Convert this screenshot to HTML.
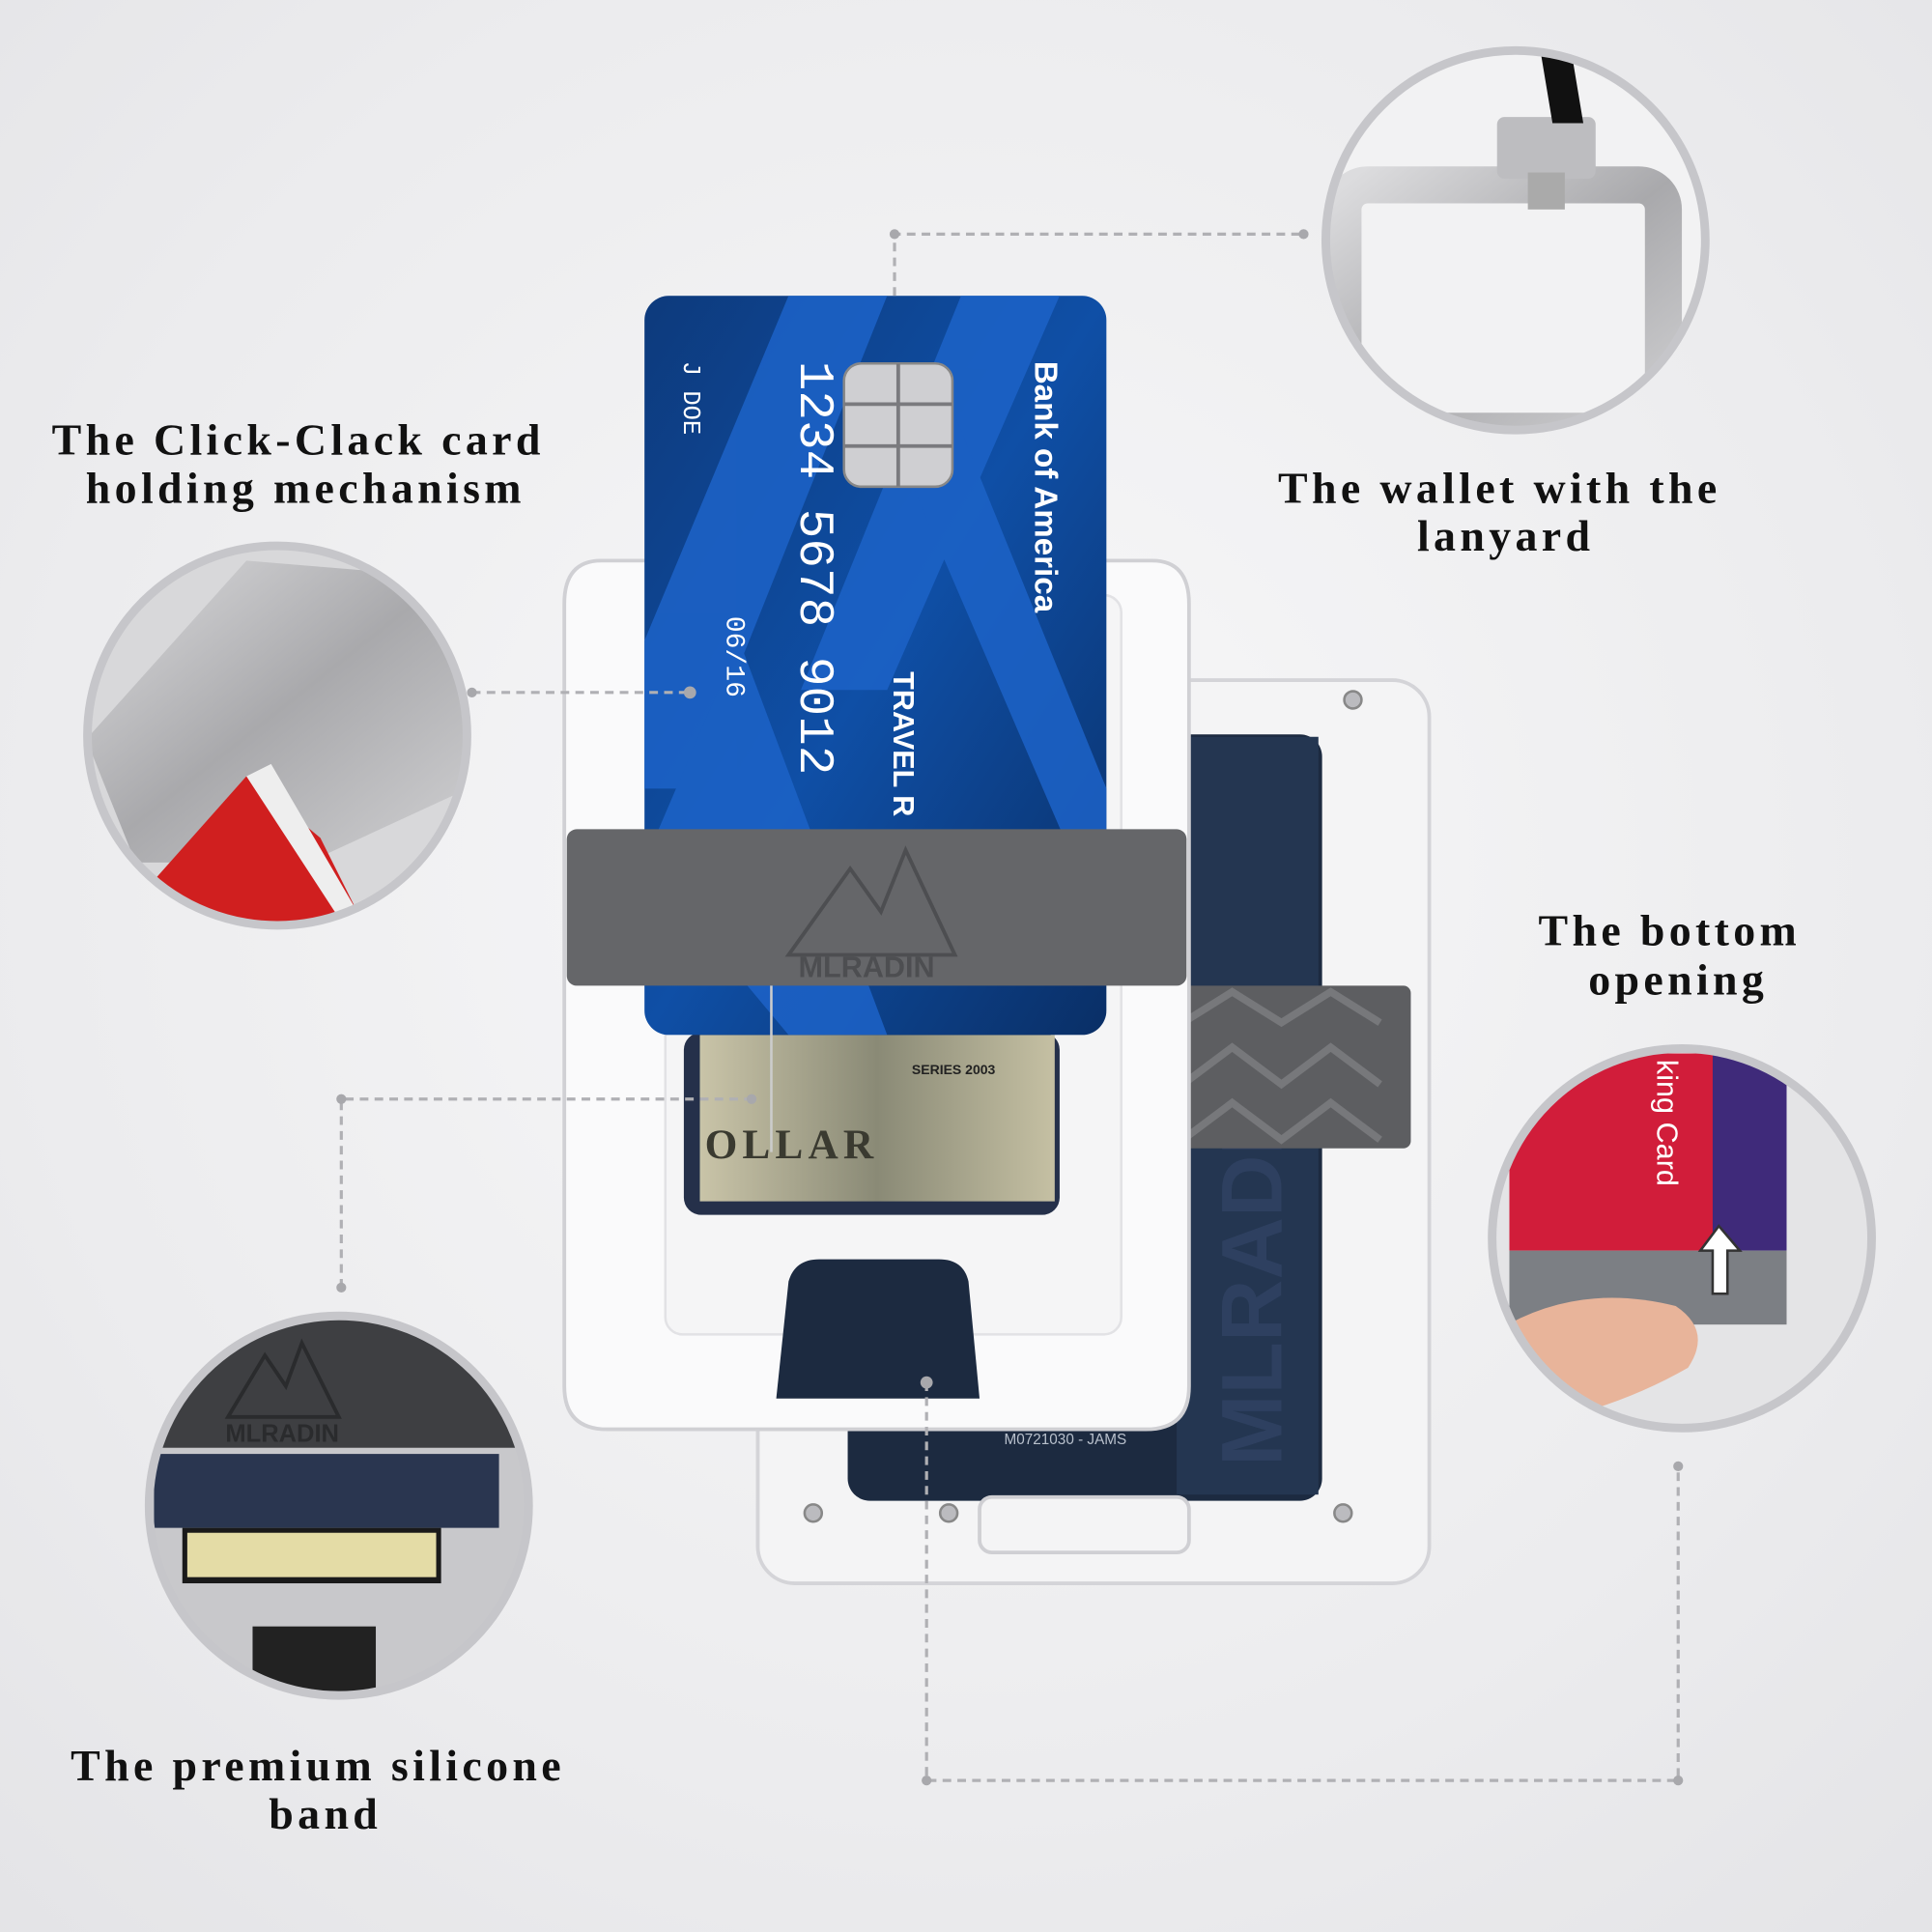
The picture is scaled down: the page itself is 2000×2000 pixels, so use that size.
<!DOCTYPE html>
<html><head><meta charset="utf-8"><style>
html,body{margin:0;padding:0;width:2000px;height:2000px;overflow:hidden;background:#eeeef0}
svg{display:block}
text{font-family:"Liberation Serif",serif;font-weight:bold}
</style></head><body>
<svg width="2000" height="2000" viewBox="0 0 1568 1568" xmlns="http://www.w3.org/2000/svg">
<defs>
<radialGradient id="bg" cx="0.5" cy="0.45" r="0.8"><stop offset="0" stop-color="#f8f8f9"/><stop offset="0.6" stop-color="#ececee"/><stop offset="1" stop-color="#e2e2e5"/></radialGradient>
<linearGradient id="card" x1="0" y1="0" x2="1" y2="1"><stop offset="0" stop-color="#0d3a7c"/><stop offset="0.5" stop-color="#0f4fa6"/><stop offset="1" stop-color="#0a2f66"/></linearGradient>
<linearGradient id="metal" x1="0" y1="0" x2="1" y2="1"><stop offset="0" stop-color="#dcdcde"/><stop offset="0.5" stop-color="#a9a9ac"/><stop offset="1" stop-color="#d0d0d2"/></linearGradient>
<linearGradient id="bill" x1="0" y1="0" x2="1" y2="0"><stop offset="0" stop-color="#c9c4a8"/><stop offset="0.5" stop-color="#8a8a76"/><stop offset="1" stop-color="#c5c0a3"/></linearGradient>
<clipPath id="c1"><circle cx="1230" cy="195" r="152"/></clipPath>
<clipPath id="c2"><circle cx="225" cy="597" r="152"/></clipPath>
<clipPath id="c3"><circle cx="275" cy="1222" r="152"/></clipPath>
<clipPath id="c4"><circle cx="1365" cy="1005" r="152"/></clipPath>
<clipPath id="cc"><rect x="523" y="240" width="375" height="600" rx="20"/></clipPath>
</defs>
<rect width="1568" height="1568" fill="url(#bg)"/>

<!-- back plate -->
<rect x="615" y="552" width="545" height="733" rx="30" fill="#f4f4f5" stroke="#d4d4d8" stroke-width="3"/>
<rect x="688" y="596" width="385" height="622" rx="18" fill="#1c2a40"/>
<rect x="955" y="598" width="115" height="615" fill="#243651"/>
<text x="1040" y="1190" font-size="70" fill="#2e4060" transform="rotate(-90 1040 1190)" style="font-family:'Liberation Sans',sans-serif">MLRADIN</text>
<rect x="795" y="1215" width="170" height="45" rx="10" fill="#f4f4f5" stroke="#cfcfd3" stroke-width="3"/>
<g fill="#bbbbbf" stroke="#888" stroke-width="2"><circle cx="660" cy="1228" r="7"/><circle cx="770" cy="1228" r="7"/><circle cx="1090" cy="1228" r="7"/><circle cx="1098" cy="568" r="7"/></g>
<text x="815" y="1172" font-size="12" fill="#b8c0cc" style="font-family:'Liberation Sans',sans-serif;font-weight:normal">M0721030 - JAMS</text>
<rect x="950" y="800" width="195" height="132" rx="6" fill="#5d5e61"/>
<g stroke="#77787b" stroke-width="6" fill="none"><path d="M960 830 L1000 805 L1040 830 L1080 805 L1120 830"/><path d="M960 880 L1000 850 L1040 880 L1080 850 L1120 880"/><path d="M960 925 L1000 895 L1040 925 L1080 895 L1120 925"/></g>

<!-- front plate -->
<path d="M488 455 H540 V483 H888 V455 H935 Q965 455 965 490 V1125 Q965 1160 930 1160 H493 Q458 1160 458 1125 V490 Q458 455 488 455 Z" fill="#fafafb" stroke="#d0d0d4" stroke-width="3"/>
<rect x="540" y="483" width="370" height="600" rx="14" fill="#f5f5f6" stroke="#e2e2e5" stroke-width="2"/>
<rect x="555" y="838" width="305" height="148" rx="14" fill="#25304a"/>
<rect x="568" y="840" width="288" height="135" fill="url(#bill)"/>
<text x="572" y="940" font-size="34" fill="#3a3a30" letter-spacing="4">OLLAR</text>
<text x="740" y="872" font-size="11" fill="#222" style="font-family:'Liberation Sans',sans-serif">SERIES 2003</text>
<path d="M640 1040 Q645 1022 665 1022 H762 Q782 1022 786 1040 L795 1135 H630 Z" fill="#1c2a40"/>

<!-- card -->
<g clip-path="url(#cc)">
<rect x="523" y="240" width="375" height="600" fill="url(#card)"/>
<g fill="#1d63c8" opacity="0.85"><polygon points="640,240 720,240 560,640 523,640 523,520"/><polygon points="780,240 860,240 720,560 650,560"/><polygon points="523,700 600,520 720,840 640,840"/><polygon points="700,300 760,300 898,640 898,760"/></g>
</g>
<rect x="685" y="295" width="88" height="100" rx="14" fill="#cfcfd2" stroke="#888" stroke-width="2"/>
<g stroke="#7a7a7e" stroke-width="3"><line x1="729" y1="295" x2="729" y2="395"/><line x1="685" y1="328" x2="773" y2="328"/><line x1="685" y1="362" x2="773" y2="362"/></g>
<g fill="#fff">
<text x="840" y="293" font-size="26" transform="rotate(90 840 293)" style="font-family:'Liberation Sans',sans-serif">Bank of America</text>
<text x="650" y="293" font-size="40" transform="rotate(90 650 293)" style="font-family:'Liberation Mono',monospace;font-weight:normal">1234 5678 9012</text>
<text x="725" y="545" font-size="24" transform="rotate(90 725 545)" style="font-family:'Liberation Sans',sans-serif">TRAVEL R</text>
<text x="590" y="500" font-size="22" transform="rotate(90 590 500)" style="font-family:'Liberation Mono',monospace;font-weight:normal">06/16</text>
<text x="555" y="293" font-size="20" transform="rotate(90 555 293)" style="font-family:'Liberation Mono',monospace;font-weight:normal">J DOE</text>
</g>
<rect x="460" y="673" width="503" height="127" rx="8" fill="#656669"/>
<path d="M640 775 L690 705 L715 740 L735 690 L775 775 Z" fill="none" stroke="#4d4e51" stroke-width="3"/>
<text x="648" y="793" font-size="24" fill="#4d4e51" style="font-family:'Liberation Sans',sans-serif">MLRADIN</text>
<line x1="626" y1="800" x2="626" y2="935" stroke="#ccc" stroke-width="2"/>

<!-- dashed connectors -->
<g stroke="#b0b0b4" stroke-width="2.5" stroke-dasharray="7 5" fill="none">
<path d="M726 240 V190 H1058"/>
<path d="M383 562 H560"/>
<path d="M277 1045 V892 H610"/>
<path d="M752 1122 V1445 H1362 V1190"/>
</g>
<g fill="#a8a8ac"><circle cx="726" cy="190" r="4"/><circle cx="1058" cy="190" r="4"/><circle cx="383" cy="562" r="4"/><circle cx="560" cy="562" r="5"/><circle cx="277" cy="892" r="4"/><circle cx="277" cy="1045" r="4"/><circle cx="752" cy="1445" r="4"/><circle cx="1362" cy="1445" r="4"/><circle cx="1362" cy="1190" r="4"/><circle cx="752" cy="1122" r="5"/><circle cx="610" cy="892" r="4"/></g>

<!-- circles -->
<g clip-path="url(#c1)"><rect x="1070" y="40" width="320" height="320" fill="#f2f2f3"/>
<rect x="1090" y="150" width="260" height="200" rx="20" fill="none" stroke="url(#metal)" stroke-width="30"/>
<rect x="1215" y="95" width="80" height="50" rx="6" fill="#bdbdc0"/><rect x="1240" y="140" width="30" height="30" fill="#aaa"/>
<path d="M1250 40 L1275 40 L1285 100 L1260 100 Z" fill="#111"/></g>
<circle cx="1230" cy="195" r="154" fill="none" stroke="#c6c6ca" stroke-width="7"/>

<g clip-path="url(#c2)"><rect x="70" y="440" width="320" height="320" fill="#d8d8da"/>
<polygon points="70,600 200,455 380,470 380,640 250,700 110,700" fill="url(#metal)"/>
<polygon points="120,720 200,630 260,680 300,760 120,760" fill="#d01f1f"/>
<polygon points="200,630 220,620 290,740 275,745" fill="#eee"/></g>
<circle cx="225" cy="597" r="154" fill="none" stroke="#c6c6ca" stroke-width="7"/>

<g clip-path="url(#c3)"><rect x="120" y="1065" width="320" height="320" fill="#c8c8cb"/>
<rect x="120" y="1065" width="320" height="110" fill="#3e3f42"/>
<path d="M185 1150 L215 1100 L232 1125 L245 1090 L275 1150 Z" fill="none" stroke="#2a2b2d" stroke-width="3"/>
<text x="183" y="1170" font-size="20" fill="#2a2b2d" style="font-family:'Liberation Sans',sans-serif">MLRADIN</text>
<rect x="125" y="1180" width="280" height="60" fill="#2a3650"/>
<rect x="148" y="1240" width="210" height="45" fill="#1a1a1a"/><rect x="152" y="1244" width="202" height="36" fill="#e4dca6"/>
<rect x="205" y="1320" width="100" height="60" fill="#222"/></g>
<circle cx="275" cy="1222" r="154" fill="none" stroke="#c6c6ca" stroke-width="7"/>

<g clip-path="url(#c4)"><rect x="1210" y="850" width="320" height="320" fill="#e4e4e6"/>
<rect x="1225" y="855" width="170" height="160" fill="#d11d3a"/>
<rect x="1390" y="855" width="60" height="160" fill="#3f2a7a"/>
<rect x="1225" y="1015" width="225" height="60" fill="#7c7f84"/>
<path d="M1215 1080 Q1280 1040 1360 1060 Q1390 1080 1370 1110 Q1300 1150 1215 1160 Z" fill="#e8b49a"/>
<path d="M1395 995 L1380 1015 H1390 V1050 H1402 V1015 H1412 Z" fill="#fff" stroke="#333" stroke-width="2"/>
<text x="1345" y="860" font-size="24" fill="#fff" transform="rotate(90 1345 860)" style="font-family:'Liberation Sans',sans-serif;font-weight:normal">king Card</text></g>
<circle cx="1365" cy="1005" r="154" fill="none" stroke="#c6c6ca" stroke-width="7"/>

<!-- labels -->
<g font-size="36" fill="#111" letter-spacing="3.4" text-anchor="middle">
<text x="242" y="369">The Click-Clack card</text>
<text x="248" y="408">holding mechanism</text>
<text x="1217" y="408">The wallet with the</text>
<text x="1222" y="447">lanyard</text>
<text x="1355" y="767">The bottom</text>
<text x="1362" y="807">opening</text>
<text x="258" y="1445">The premium silicone</text>
<text x="264" y="1484">band</text>
</g>
</svg>
</body></html>
